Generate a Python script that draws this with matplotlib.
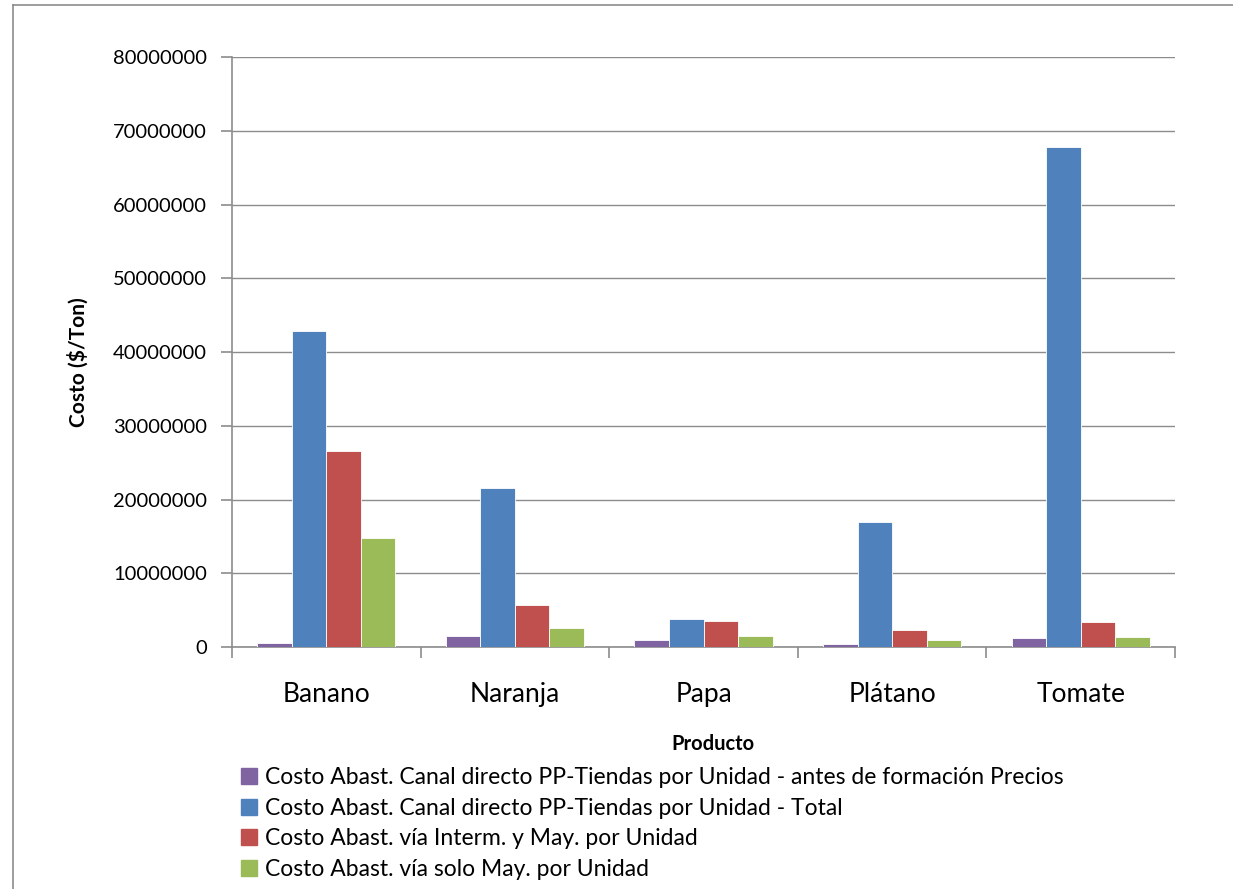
import matplotlib
matplotlib.use("Agg")
import matplotlib.pyplot as plt
import numpy as np
from matplotlib.lines import Line2D

productos = ["Banano", "Naranja", "Papa", "Plátano", "Tomate"]
series = [
    "Costo Abast. Canal directo PP-Tiendas por Unidad - antes de formación Precios",
    "Costo Abast. Canal directo PP-Tiendas por Unidad - Total",
    "Costo Abast. vía Interm. y May. por Unidad",
    "Costo Abast. vía solo May. por Unidad",
]
antes_formacion = [550000, 1500000, 950000, 450000, 1180000]
directo_total = [42850000, 21600000, 3750000, 16950000, 67800000]
interm_may = [26600000, 5700000, 3500000, 2260000, 3350000]
solo_may = [14800000, 2600000, 1530000, 1000000, 1300000]
colores = ["#8064a2", "#4f81bd", "#c0504d", "#9bbb59"]
y_ticks = [0, 10000000, 20000000, 30000000, 40000000, 50000000, 60000000, 70000000, 80000000]

plt.rcParams["font.family"] = ["Lato", "DejaVu Sans"]

fig = plt.figure(figsize=(12.33, 8.89), dpi=100)
ax = fig.add_axes([232 / 1233, 1 - 647 / 889, (1175 - 232) / 1233, (647 - 57) / 889])

x = np.arange(len(productos))
ancho = 0.183
valores = [antes_formacion, directo_total, interm_may, solo_may]
for i, (vals, color) in enumerate(zip(valores, colores)):
    ax.bar(x + (i - 1.5) * ancho, vals, width=ancho, color=color,
           edgecolor="white", linewidth=0.6, zorder=3)

ax.set_xlim(-0.5, len(productos) - 0.5)
ax.set_ylim(0, 80000000)
ax.set_yticks(y_ticks)
ax.set_yticklabels([str(v) for v in y_ticks])
ax.yaxis.grid(True, color="#8c8c8c", linewidth=1.0, zorder=0)

ax.set_xticks(x)
ax.set_xticklabels(productos)
ax.set_xticks(np.arange(-0.5, len(productos)), minor=True)
ax.tick_params(axis="x", which="major", length=0, pad=25, labelsize=19)
ax.tick_params(axis="x", which="minor", length=8, color="#8c8c8c", width=1.2)
ax.tick_params(axis="y", length=8, color="#8c8c8c", width=1.2, pad=10, labelsize=14.5)

for s in ["top", "right"]:
    ax.spines[s].set_visible(False)
for s in ["left", "bottom"]:
    ax.spines[s].set_color("#8c8c8c")
    ax.spines[s].set_linewidth(1.2)

fig.text(78 / 1233, 1 - 362 / 889, "Costo ($/Ton)", fontsize=15, fontweight="bold",
         rotation=90, ha="center", va="center")
fig.text(713 / 1233, 1 - 744 / 889, "Producto", fontsize=14.5, fontweight="bold",
         ha="center", va="center")

handles = [Line2D([], [], marker="s", linestyle="none", markersize=11,
                  markerfacecolor=c, markeredgecolor=c) for c in colores]
fig.legend(handles, series, loc="upper left", bbox_to_anchor=(240 / 1233, 1 - 767 / 889),
           frameon=False, fontsize=16.5, handlelength=0.8, handletextpad=0.3,
           labelspacing=0.42, borderaxespad=0, borderpad=0)

# chart frame (left and top edges)
fig.add_artist(Line2D([13 / 1233, 13 / 1233], [0, 1 - 5 / 889], transform=fig.transFigure,
                      color="#8c8c8c", linewidth=1.2))
fig.add_artist(Line2D([13 / 1233, 1], [1 - 5 / 889, 1 - 5 / 889], transform=fig.transFigure,
                      color="#8c8c8c", linewidth=1.2))

fig.savefig("out.png", dpi=100)
